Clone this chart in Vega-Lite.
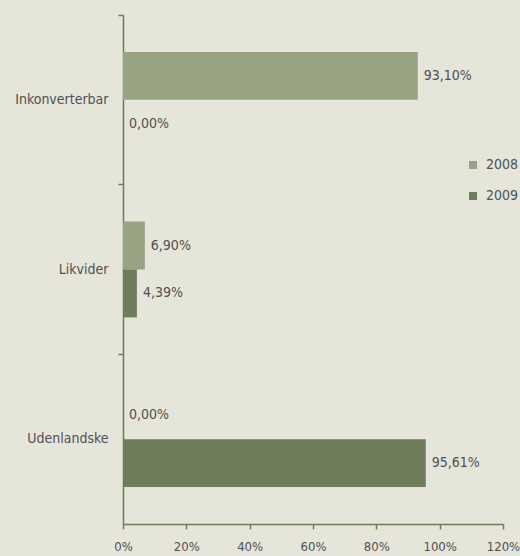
{
  "$schema": "https://vega.github.io/schema/vega-lite/v6.json",
  "autosize": "none",
  "width": 380,
  "height": 509,
  "padding": {"left": 123, "top": 15, "right": 17, "bottom": 32},
  "background": "#e5e5da",
  "config": {
    "view": {"stroke": null},
    "font": "'DejaVu Sans Condensed', 'Liberation Sans', sans-serif",
    "locale": {"number": {"decimal": ",", "thousands": ".", "grouping": [3], "currency": ["", " kr"]}}
  },
  "data": {
    "values": [
      {"kategori": "Inkonverterbar", "aar": "2008", "andel": 0.931},
      {"kategori": "Inkonverterbar", "aar": "2009", "andel": 0.0},
      {"kategori": "Likvider", "aar": "2008", "andel": 0.069},
      {"kategori": "Likvider", "aar": "2009", "andel": 0.0439},
      {"kategori": "Udenlandske", "aar": "2008", "andel": 0.0},
      {"kategori": "Udenlandske", "aar": "2009", "andel": 0.9561}
    ]
  },
  "encoding": {
    "y": {
      "field": "kategori", "type": "nominal",
      "sort": ["Inkonverterbar", "Likvider", "Udenlandske"],
      "scale": {"paddingInner": 0, "paddingOuter": 0},
      "axis": {
        "title": null, "bandPosition": 0, "tickSize": 5, "labelPadding": 10,
        "domainColor": "#6e7c5a", "tickColor": "#6e7c5a", "domainWidth": 1.5, "tickWidth": 1.5,
        "labelFontSize": 14, "labelColor": "#505050", "grid": false
      }
    },
    "yOffset": {
      "field": "aar", "type": "nominal",
      "scale": {"paddingInner": 0, "paddingOuter": 0.77}
    },
    "x": {
      "field": "andel", "type": "quantitative",
      "scale": {"domain": [0, 1.2], "nice": false},
      "axis": {
        "title": null, "format": ".0%", "values": [0, 0.2, 0.4, 0.6, 0.8, 1.0, 1.2],
        "tickSize": 5, "labelPadding": 11, "grid": false,
        "domainColor": "#6e7c5a", "tickColor": "#6e7c5a", "domainWidth": 1.5, "tickWidth": 1.5,
        "labelFontSize": 13, "labelColor": "#505050", "labelFlush": false
      }
    }
  },
  "layer": [
    {
      "mark": {"type": "bar"},
      "encoding": {
        "color": {
          "field": "aar", "type": "nominal",
          "scale": {"domain": ["2008", "2009"], "range": ["#97a383", "#6e7c5a"]},
          "legend": {
            "title": null, "orient": "none", "legendX": 343, "legendY": 143,
            "symbolType": "square", "symbolSize": 64, "rowPadding": 17,
            "labelFontSize": 14, "labelColor": "#505050", "labelOffset": 6
          }
        }
      }
    },
    {
      "mark": {"type": "text", "align": "left", "dx": 6, "fontSize": 14, "color": "#505050"},
      "encoding": {
        "text": {"field": "andel", "type": "quantitative", "format": ".2%"}
      }
    }
  ]
}
